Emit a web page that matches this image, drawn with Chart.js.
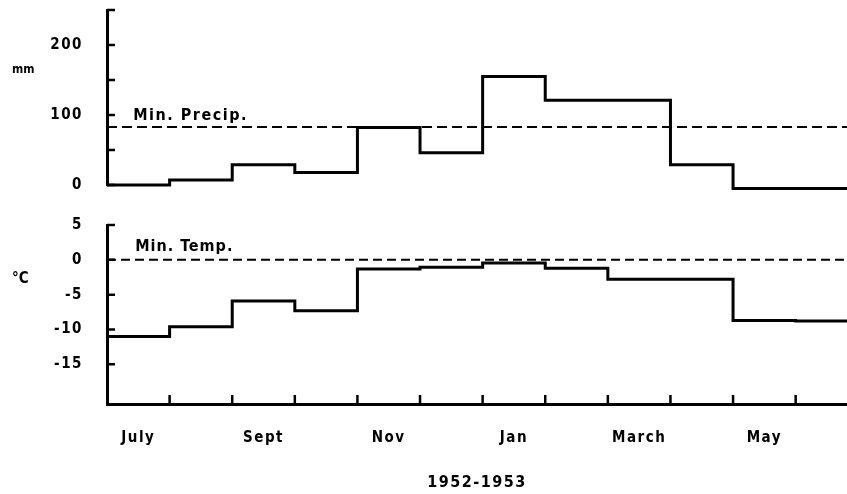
<!DOCTYPE html>
<html>
<head>
    <title>Precipitation and temperature 1952-1953</title>
    <script src="https://cdn.jsdelivr.net/npm/chart.js@4"></script>
    <style>
    body {
        margin: 0;
        background: #fff;
    }
    #wrap {
        position: relative;
        width: 847px;
        height: 494px;
    }
    canvas {
        position: absolute;
        left: 0;
    }
    #precipChart { top: 0; }
    #tempChart { top: 200px; }
    </style>
</head>
<body>
<div id="wrap">
    <canvas id="precipChart" width="847" height="200"></canvas>
    <canvas id="tempChart" width="847" height="294"></canvas>
</div>

<script>
    // monthly values, July 1952 to June 1953
    const months = ['July', 'Aug', 'Sept', 'Oct', 'Nov', 'Dec', 'Jan', 'Feb', 'March', 'April', 'May', 'June'];
    const labelledMonths = ['July', 'Sept', 'Nov', 'Jan', 'March', 'May'];
    const precipitation = [0, 7, 29, 18, 82, 46, 155, 121, 121, 29, -5, -5];
    const temperature = [-11, -9.6, -5.9, -7.3, -1.3, -1.05, -0.45, -1.2, -2.8, -2.8, -8.7, -8.8];
    const minPrecip = 83;
    const minTemp = 0;
    const precipTicks = [0, 50, 100, 150, 200, 250];
    const precipLabels = [0, 100, 200];
    const tempTicks = [5, 0, -5, -10, -15];

    const FONT = "'DejaVu Sans Condensed', 'Liberation Sans Narrow', 'DejaVu Sans', sans-serif";
    const xMax = 11.82;

    function steps(values) {
        var pts = values.map(function (v, i) { return {x: i, y: v}; });
        pts.push({x: values.length, y: values[values.length - 1]});
        return pts;
    }

    function flat(v) {
        return [{x: 0, y: v}, {x: months.length, y: v}];
    }

    // inward tick marks and the little notes
    const marks = {
        id: 'marks',
        beforeDraw: function (chart) {
            chart.ctx.letterSpacing = '1.5px';
        },
        afterDraw: function (chart, args, opts) {
            var ctx = chart.ctx, xs = chart.scales.x, ys = chart.scales.y, a = chart.chartArea;
            ctx.save();
            ctx.strokeStyle = '#000';
            ctx.lineWidth = 2.5;
            ctx.beginPath();
            ys.ticks.forEach(function (t) {
                var py = ys.getPixelForValue(t.value);
                ctx.moveTo(a.left, py);
                ctx.lineTo(a.left + 8, py);
            });
            if (opts.monthTicks) {
                for (var i = 1; i < months.length; i++) {
                    var px = xs.getPixelForValue(i);
                    if (px > a.right) continue;
                    ctx.moveTo(px, a.bottom);
                    ctx.lineTo(px, a.bottom - 9);
                }
            }
            ctx.stroke();

            ctx.fillStyle = '#000';
            ctx.textBaseline = 'alphabetic';
            (opts.notes || []).forEach(function (n) {
                ctx.font = 'bold ' + n.size + 'px ' + FONT;
                ctx.letterSpacing = n.spacing + 'px';
                var px = n.px !== undefined ? n.px : xs.getPixelForValue(n.x);
                ctx.fillText(n.text, px, ys.getPixelForValue(n.y) + n.dy);
            });
            ctx.restore();
        }
    };

    function yAxis(min, max, ticks, labels) {
        return {
            min: min,
            max: max,
            afterFit: function (s) {
                s.width = 107;
                // no extra room for the end labels
                s.paddingTop = 0;
                s.paddingBottom = 0;
            },
            afterBuildTicks: function (s) {
                s.ticks = ticks.map(function (v) { return {value: v}; });
            },
            ticks: {
                callback: function (v) { return labels.indexOf(v) >= 0 ? String(v) : ''; },
                padding: 24,
                color: '#000',
                font: {family: FONT, size: 15, weight: 'bold'}
            },
            grid: {display: false, drawTicks: false},
            border: {display: true, color: '#000', width: 3}
        };
    }

    function lineSet(data, dash, width) {
        return {
            data: data,
            stepped: dash ? false : true,
            borderColor: '#000',
            borderWidth: width,
            borderDash: dash || [],
            pointRadius: 0,
            fill: false,
            clip: false
        };
    }

    Chart.defaults.animation = false;

    new Chart(document.getElementById('precipChart'), {
        type: 'line',
        data: {
            datasets: [
                lineSet(steps(precipitation), null, 3),
                lineSet(flat(minPrecip), [10, 5], 2)
            ]
        },
        options: {
            responsive: false,
            devicePixelRatio: 1,
            layout: {padding: {top: 10, bottom: 15, left: 0, right: 0}},
            scales: {
                x: {type: 'linear', min: 0, max: xMax, display: false},
                y: yAxis(0, 250, precipTicks, precipLabels)
            },
            plugins: {
                legend: {display: false},
                tooltip: {enabled: false},
                marks: {
                    notes: [
                        {text: 'Min. Precip.', x: 0.42, y: minPrecip, dy: -7, size: 16, spacing: 1.5},
                        {text: 'mm', px: 12, y: 166, dy: 4, size: 12, spacing: 0}
                    ]
                }
            }
        },
        plugins: [marks]
    });

    new Chart(document.getElementById('tempChart'), {
        type: 'line',
        data: {
            datasets: [
                lineSet(steps(temperature), null, 3),
                lineSet(flat(minTemp), [9, 5], 2)
            ]
        },
        options: {
            responsive: false,
            devicePixelRatio: 1,
            layout: {padding: {top: 25, bottom: 0, left: 0, right: 0}},
            scales: {
                x: {
                    type: 'linear',
                    min: 0,
                    max: xMax,
                    afterFit: function (s) {
                        s.height = 90;
                        s.paddingLeft = 0;
                        s.paddingRight = 0;
                    },
                    afterBuildTicks: function (s) {
                        s.ticks = labelledMonths.map(function (m) { return {value: months.indexOf(m) + 0.5}; });
                    },
                    ticks: {
                        callback: function (v) { return months[Math.floor(v)]; },
                        autoSkip: false,
                        maxRotation: 0,
                        padding: 25,
                        color: '#000',
                        font: {family: FONT, size: 15, weight: 'bold'}
                    },
                    grid: {display: false, drawTicks: false},
                    border: {display: true, color: '#000', width: 3},
                    title: {
                        display: true,
                        text: '1952-1953',
                        color: '#000',
                        font: {family: FONT, size: 16, weight: 'bold'},
                        padding: {top: 0, bottom: 2}
                    }
                },
                y: yAxis(-20.7, 5, tempTicks, tempTicks)
            },
            plugins: {
                legend: {display: false},
                tooltip: {enabled: false},
                marks: {
                    monthTicks: true,
                    notes: [
                        {text: 'Min. Temp.', x: 0.45, y: minTemp, dy: -9, size: 16, spacing: 1},
                        {text: '°C', px: 12, y: -2.2, dy: 8, size: 15, spacing: 0}
                    ]
                }
            }
        },
        plugins: [marks]
    });
</script>
</body>
</html>
